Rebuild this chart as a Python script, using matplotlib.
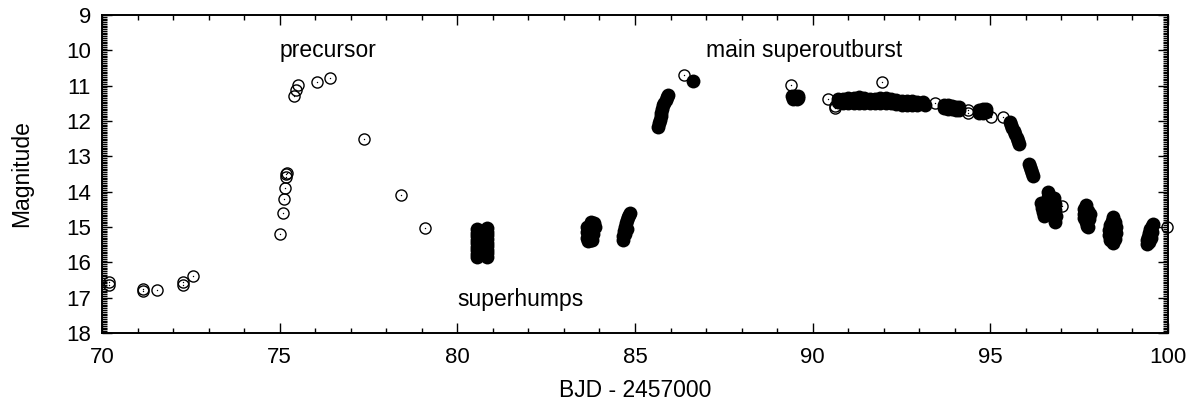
import matplotlib
matplotlib.use("Agg")
import matplotlib.pyplot as plt
from matplotlib.ticker import MultipleLocator

plt.rcParams['font.family'] = ['Liberation Sans', 'DejaVu Sans']

# sparse points (open circles)
open_t = [70.20, 70.20, 71.15, 71.15, 71.55, 72.28, 72.28, 72.57,
          75.01, 75.08, 75.11, 75.14, 75.17, 75.19, 75.20, 75.39, 75.46, 75.52, 76.04, 76.42,
          77.38, 78.41, 79.09, 86.38, 89.38, 90.44, 90.63, 90.63, 91.96, 93.44,
          94.38, 94.38, 95.01, 95.35, 97.01, 99.97]
open_m = [16.55, 16.65, 16.75, 16.80, 16.78, 16.55, 16.65, 16.39,
          15.20, 14.61, 14.22, 13.90, 13.59, 13.51, 13.47, 11.29, 11.12, 10.98, 10.90, 10.79,
          12.50, 14.10, 15.02, 10.69, 10.98, 11.39, 11.57, 11.64, 10.90, 11.48,
          11.70, 11.78, 11.90, 11.88, 14.41, 15.00]

# time-resolved runs (filled circles), one pair of lists per night
t_80 = [80.55, 80.55, 80.55, 80.55, 80.55, 80.55, 80.55, 80.55, 80.55,
        80.68, 80.68, 80.68, 80.68, 80.68, 80.68, 80.68,
        80.82, 80.82, 80.82, 80.82, 80.82, 80.82, 80.82, 80.82, 80.82]
m_80 = [15.06, 15.16, 15.26, 15.36, 15.46, 15.56, 15.66, 15.76, 15.86,
        15.15, 15.25, 15.35, 15.45, 15.55, 15.65, 15.75,
        15.04, 15.14, 15.24, 15.34, 15.44, 15.54, 15.64, 15.74, 15.84]

t_83 = [83.66, 83.66, 83.66, 83.68, 83.76, 83.76, 83.76, 83.76, 83.84, 83.86, 83.82, 83.80]
m_83 = [15.00, 15.15, 15.30, 15.40, 14.86, 15.02, 15.18, 15.36, 14.88, 15.00, 15.20, 15.38]

t_84 = [84.65, 84.67, 84.69, 84.71, 84.74, 84.77, 84.80, 84.83, 84.86, 84.72, 84.76]
m_84 = [15.37, 15.25, 15.12, 15.00, 14.90, 14.80, 14.72, 14.65, 14.61, 15.20, 15.05]

t_85 = [85.66, 85.68, 85.70, 85.72, 85.74, 85.76, 85.79, 85.82, 85.86, 85.89, 85.92]
m_85 = [12.16, 12.06, 11.96, 11.86, 11.76, 11.66, 11.56, 11.48, 11.40, 11.33, 11.26]

t_86 = [86.64]
m_86 = [10.86]

t_89 = [89.42, 89.50, 89.58, 89.45, 89.55, 89.60]
m_89 = [11.30, 11.28, 11.30, 11.38, 11.39, 11.36]

t_91 = [90.70, 90.85, 91.00, 91.15, 91.30, 91.45, 91.60, 91.75, 91.90, 92.05, 92.20,
        92.35, 92.50, 92.65, 92.80, 92.95, 93.10,
        90.70, 90.85, 91.00, 91.15, 91.30, 91.45, 91.60, 91.75, 91.90, 92.05, 92.20,
        92.35, 92.50, 92.65, 92.80, 92.95, 93.15]
m_91 = [11.38, 11.37, 11.36, 11.35, 11.33, 11.36, 11.38, 11.37, 11.36, 11.34, 11.38,
        11.40, 11.42, 11.43, 11.44, 11.45, 11.46,
        11.47, 11.48, 11.49, 11.50, 11.48, 11.49, 11.50, 11.49, 11.48, 11.49, 11.50,
        11.52, 11.54, 11.55, 11.56, 11.56, 11.55]

t_93 = [93.69, 93.80, 93.91, 94.02, 94.13, 93.69, 93.80, 93.91, 94.02, 94.13]
m_93 = [11.54, 11.56, 11.58, 11.60, 11.61, 11.63, 11.65, 11.67, 11.69, 11.70]

t_94 = [94.68, 94.78, 94.88, 94.68, 94.78, 94.88]
m_94 = [11.68, 11.66, 11.66, 11.76, 11.77, 11.74]

t_95 = [95.56, 95.59, 95.62, 95.66, 95.70, 95.74, 95.78, 95.81]
m_95 = [12.03, 12.12, 12.20, 12.29, 12.38, 12.47, 12.56, 12.65]

t_96a = [96.09, 96.12, 96.15, 96.18, 96.20]
m_96a = [13.22, 13.30, 13.39, 13.48, 13.56]

t_96b = [96.42, 96.45, 96.48, 96.50, 96.52, 96.61, 96.62, 96.64, 96.66,
         96.80, 96.82, 96.82, 96.84, 96.82]
m_96b = [14.33, 14.45, 14.58, 14.70, 14.40, 14.00, 14.14, 14.28, 14.42,
         14.18, 14.35, 14.52, 14.69, 14.86]

t_97 = [97.68, 97.65, 97.63, 97.64, 97.68, 97.72, 97.76, 97.78, 97.80, 97.74]
m_97 = [14.39, 14.50, 14.62, 14.74, 14.86, 14.97, 15.01, 14.78, 14.62, 14.55]

t_98 = [98.46, 98.42, 98.38, 98.35, 98.35, 98.38, 98.44, 98.50, 98.53, 98.53, 98.52]
m_98 = [14.72, 14.82, 14.95, 15.08, 15.22, 15.36, 15.45, 15.35, 15.18, 15.00, 14.85]

t_99 = [99.41, 99.42, 99.44, 99.47, 99.50, 99.54, 99.57, 99.46, 99.51, 99.55]
m_99 = [15.48, 15.38, 15.27, 15.16, 15.06, 14.98, 14.92, 15.42, 15.30, 15.15]

nights = [(t_80, m_80), (t_83, m_83), (t_84, m_84), (t_85, m_85), (t_86, m_86),
          (t_89, m_89), (t_91, m_91), (t_93, m_93), (t_94, m_94), (t_95, m_95),
          (t_96a, m_96a), (t_96b, m_96b), (t_97, m_97), (t_98, m_98), (t_99, m_99)]

fig = plt.figure(figsize=(12.01, 4.07), dpi=100)
ax = fig.add_axes([0.085, 0.182, 0.8875, 0.781])

# filled runs
for t, m in nights:
    ax.plot(t, m, 'o', color='black', ms=10, mew=0, linestyle='none', clip_on=False)

# open circles with a dot in the centre
ax.plot(open_t, open_m, 'o', mfc='none', mec='black', ms=8, mew=1.0, linestyle='none', clip_on=False)
ax.plot(open_t, open_m, 'o', color='black', ms=1.0, mew=0, linestyle='none', clip_on=False)

ax.set_xlim(70, 100)
ax.set_ylim(18, 9)
ax.xaxis.set_major_locator(MultipleLocator(5))
ax.xaxis.set_minor_locator(MultipleLocator(1))
ax.yaxis.set_major_locator(MultipleLocator(1))
ax.yaxis.set_minor_locator(MultipleLocator(0.05))
ax.tick_params(which='both', direction='in', top=True, right=True, width=1.0, labelsize=16)
ax.tick_params(which='major', length=7)
ax.tick_params(which='minor', length=3.5)
ax.tick_params(axis='x', pad=10)
ax.tick_params(axis='y', pad=8)
for s in ax.spines.values():
    s.set_linewidth(1.4)

# annotations
ax.text(75.0, 10.0, 'precursor', fontsize=16.5, va='center', ha='left')
ax.text(87.0, 10.0, 'main superoutburst', fontsize=16.5, va='center', ha='left')
ax.text(80.0, 17.05, 'superhumps', fontsize=16.5, va='center', ha='left')

ax.set_xlabel('BJD - 2457000', fontsize=16.5, labelpad=8)
ax.set_ylabel('Magnitude', fontsize=16.5, labelpad=24)

fig.savefig('out.png', dpi=100)
